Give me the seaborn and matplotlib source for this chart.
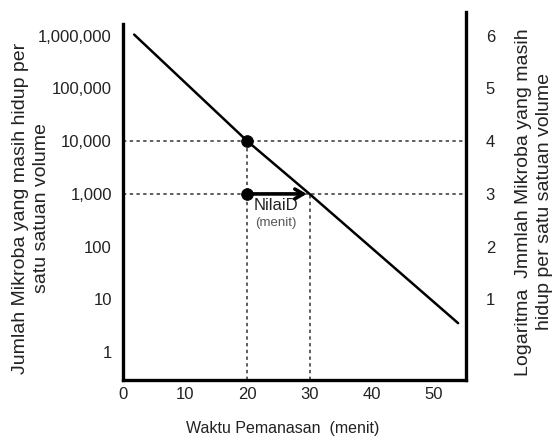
import numpy as np
import pandas as pd
import matplotlib
matplotlib.use("Agg")
import matplotlib.pyplot as plt
import seaborn as sns

# data
time_min = [1.8, 20, 30, 53.9]
log_count = [6.02, 4.0, 3.0, 0.55]
left_ticks = [1, 10, 100, 1000, 10000, 100000, 1000000]
left_labels = ["1", "10", "100", "1,000", "10,000", "100,000", "1,000,000"]
right_ticks = [1, 2, 3, 4, 5, 6]
x_ticks = [0, 10, 20, 30, 40, 50]
dot_x = [20, 20]
dot_y = [10000, 1000]

sns.set_style("white")
plt.rcParams['font.family'] = ['Liberation Sans', 'DejaVu Sans']

df = pd.DataFrame({"t": time_min, "n": [10 ** v for v in log_count]})

fig = plt.figure(figsize=(5.59, 4.41), dpi=100)
ax = fig.add_axes([0.220, 0.138, 0.614, 0.835])

sns.lineplot(data=df, x="t", y="n", ax=ax, color="black", lw=1.8)
ax.set_xlabel("")
ax.set_ylabel("")
ax.set_yscale("log")
ylo, yhi = 10 ** -0.53, 10 ** 6.45
ax.set_ylim(ylo, yhi)
ax.set_xlim(0, 55.2)

dash = dict(color="#333333", lw=1.1, ls=(0, (2.2, 2.2)))
ax.hlines([10000, 1000], 0, 55.2, **dash, zorder=1)
ax.vlines(20, ylo, 10000, **dash, zorder=1)
ax.vlines(30, ylo, 1000, **dash, zorder=1)

sns.scatterplot(x=dot_x, y=dot_y, ax=ax, color="black", s=70, zorder=5, edgecolor="black")
ax.annotate("", xy=(30, 1000), xytext=(20, 1000),
            arrowprops=dict(arrowstyle="->,head_length=0.6,head_width=0.35", lw=2.6, color="black"),
            zorder=4)
ax.text(24.6, 10 ** 2.78, "NilaiD", ha="center", va="center", fontsize=12, color="#222222")
ax.text(24.6, 10 ** 2.45, "(menit)", ha="center", va="center", fontsize=9.5, color="#555555")

ax.set_yticks(left_ticks)
ax.set_yticklabels(left_labels)
ax.minorticks_off()
ax.set_xticks(x_ticks)
ax.tick_params(axis="both", length=0, labelsize=12, colors="#222222")
ax.tick_params(axis="y", pad=8)
ax.tick_params(axis="x", pad=5)

ax.spines["top"].set_visible(False)
for s in ["left", "bottom", "right"]:
    ax.spines[s].set_color("black")
    ax.spines[s].set_linewidth(2.4)
ax.spines["left"].set_bounds(ylo, 10 ** 6.23)

ax2 = ax.twinx()
ax2.set_ylim(np.log10(ylo), np.log10(yhi))
ax2.set_yticks(right_ticks)
ax2.tick_params(axis="y", length=0, labelsize=12, colors="#222222", pad=14)
for s in ["top", "left", "bottom", "right"]:
    ax2.spines[s].set_visible(False)

fig.text(283 / 559, 1 - 429 / 441, "Waktu Pemanasan  (menit)", ha="center", va="center",
         fontsize=11.5, color="#222222")
fig.text(31 / 559, 1 - 208 / 441, "Jumlah Mikroba yang masih hidup per\nsatu satuan volume",
         rotation=90, ha="center", va="center", fontsize=14, color="#222222",
         linespacing=1.3, multialignment="center")
fig.text(534 / 559, 1 - 202 / 441, "Logaritma  Jmmlah Mikroba yang masih\nhidup per satu satuan volume",
         rotation=90, ha="center", va="center", fontsize=14, color="#222222",
         linespacing=1.3, multialignment="center")

fig.savefig("out.png", dpi=100)
